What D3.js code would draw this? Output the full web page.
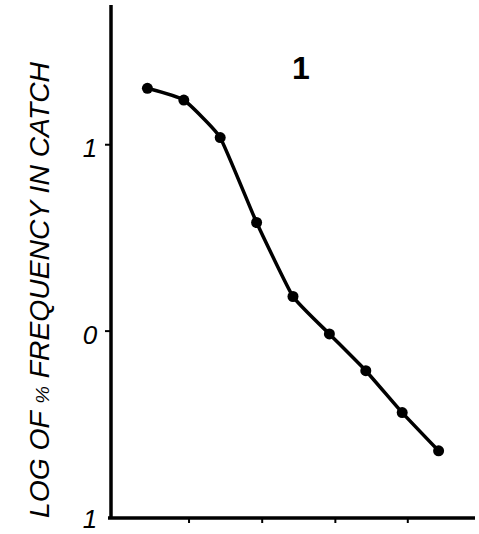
<!DOCTYPE html>
<html>
<head>
<meta charset="utf-8">
<script src="https://cdn.jsdelivr.net/npm/d3@7/dist/d3.min.js"></script>
<style>
  html, body { margin: 0; padding: 0; background: #fff; }
  svg { display: block; }
</style>
</head>
<body>
<svg id="chart" width="479" height="534"></svg>
<script>
// Data
const xValues = [1, 2, 3, 4, 5, 6, 7, 8, 9];
const logFreq = [1.30, 1.237, 1.036, 0.58, 0.183, -0.018, -0.215, -0.44, -0.645];
const yTickValues = [1, 0, -1];
const yTickLabels = ["1", "0", "1"];
const xTickValues = [2.13, 4.14, 6.15, 8.14];
const panelLabel = "1";
const yTitle = ["LOG OF ", "%", " FREQUENCY ", "IN", " CATCH"];

const svg = d3.select("#chart");
const x = d3.scaleLinear().domain([0, 10]).range([111, 475]);
const y = d3.scaleLinear().domain([-1, 1.747]).range([517, 5]);

const ink = "#000";

// y axis
const yAxis = d3.axisLeft(y).tickValues(yTickValues.slice(0, 2)).tickSize(6).tickFormat("");
const gy = svg.append("g").attr("transform", `translate(${x(0)},0)`).call(yAxis);
gy.select(".domain").remove();
gy.selectAll(".tick line").attr("stroke", ink).attr("stroke-width", 2);
svg.append("line")
  .attr("x1", x(0)).attr("x2", x(0))
  .attr("y1", y(1.747)).attr("y2", y(-1) + 1)
  .attr("stroke", ink).attr("stroke-width", 3.5);

// x axis
const xAxis = d3.axisBottom(x).tickValues(xTickValues).tickSize(5).tickFormat("");
const gx = svg.append("g").attr("transform", `translate(0,${y(-1) + 1})`).call(xAxis);
gx.select(".domain").remove();
gx.selectAll(".tick line").attr("stroke", ink).attr("stroke-width", 2);
svg.append("line")
  .attr("x1", x(0) - 3).attr("x2", x(10))
  .attr("y1", y(-1) + 1).attr("y2", y(-1) + 1)
  .attr("stroke", ink).attr("stroke-width", 3.5);

// y tick labels
svg.selectAll("text.ytl")
  .data(yTickValues)
  .join("text")
  .attr("class", "ytl")
  .attr("x", 90)
  .attr("y", (d, i) => i === 2 ? y(d) + 11 : y(d) + 13)
  .attr("text-anchor", "middle")
  .attr("font-family", "Liberation Sans, Arial, sans-serif")
  .attr("font-style", "italic")
  .attr("font-size", 26)
  .attr("fill", ink)
  .text((d, i) => yTickLabels[i]);

// y title
const yt = svg.append("text")
  .attr("transform", `translate(49,290) rotate(-90)`)
  .attr("text-anchor", "middle")
  .attr("font-family", "Liberation Sans, Arial, sans-serif")
  .attr("font-style", "italic")
  .attr("font-size", 27)
  .attr("textLength", 456)
  .attr("lengthAdjust", "spacingAndGlyphs")
  .attr("fill", ink);
yt.selectAll("tspan")
  .data(yTitle)
  .join("tspan")
  .attr("font-size", (d) => d === "%" ? 19 : 27)
  .text(d => d);

// panel label
svg.append("text")
  .attr("x", 301)
  .attr("y", 79)
  .attr("text-anchor", "middle")
  .attr("font-family", "Liberation Sans, Arial, sans-serif")
  .attr("font-weight", "bold")
  .attr("font-size", 32)
  .attr("fill", ink)
  .text(panelLabel);

// line
const line = d3.line()
  .x((d, i) => x(xValues[i]))
  .y(d => y(d))
  .curve(d3.curveCardinal.tension(0.6));
svg.append("path")
  .datum(logFreq)
  .attr("d", line)
  .attr("fill", "none")
  .attr("stroke", ink)
  .attr("stroke-width", 3.5);

// points
svg.selectAll("circle.pt")
  .data(logFreq)
  .join("circle")
  .attr("class", "pt")
  .attr("cx", (d, i) => x(xValues[i]))
  .attr("cy", d => y(d))
  .attr("r", 5.5)
  .attr("fill", ink);
</script>
</body>
</html>
